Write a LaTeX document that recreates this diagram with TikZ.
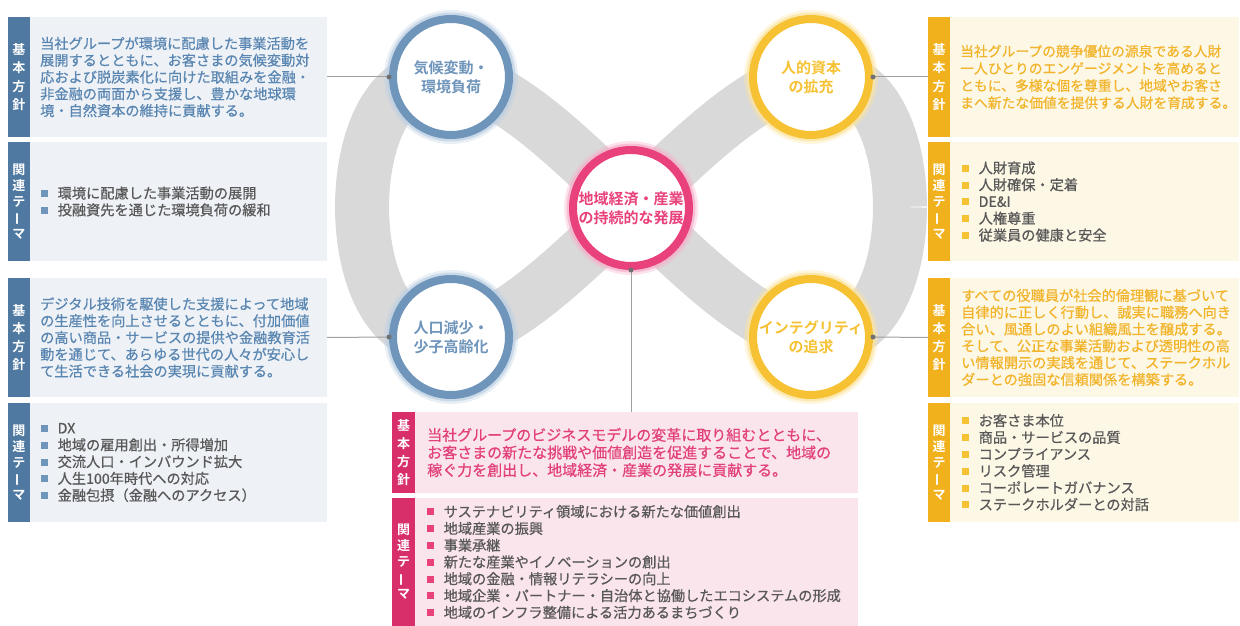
\documentclass[tikz,border=0pt]{standalone}
\usepackage{fontspec}
\setmainfont{Noto Sans CJK JP}[BoldFont={Noto Sans CJK JP Bold}]
\newfontfamily\medjp{Noto Sans CJK JP}[FakeBold=0.6]
\usetikzlibrary{positioning}
\definecolor{bluetab}{HTML}{4F79A1}
\definecolor{bluefill}{HTML}{EEF2F6}
\definecolor{bluetext}{HTML}{5A86B2}
\definecolor{bluering}{HTML}{6F95BB}
\definecolor{blueglow}{HTML}{BCD0E3}
\definecolor{pinktab}{HTML}{D82F6B}
\definecolor{pinkfill}{HTML}{FBE5EC}
\definecolor{pinktext}{HTML}{E2407A}
\definecolor{pinkring}{HTML}{E8417B}
\definecolor{pinkglow}{HTML}{F6B0CA}
\definecolor{goldtab}{HTML}{F0B11D}
\definecolor{goldfill}{HTML}{FDF7E6}
\definecolor{goldtext}{HTML}{F2B42B}
\definecolor{goldring}{HTML}{F6C234}
\definecolor{goldglow}{HTML}{FBE4A0}
\definecolor{bandgray}{HTML}{D9D9D9}
\definecolor{itemgray}{HTML}{585858}
\definecolor{conngray}{HTML}{A0A0A0}
\definecolor{dotgray}{HTML}{707070}
\newcommand{\bodyfont}{\medjp\fontsize{14.2}{16.8}\selectfont}
\newcommand{\mainfont}{\medjp\fontsize{15}{17.6}\selectfont}
\newcommand{\tabfont}{\fontsize{13}{18.2}\selectfont\bfseries}
\newcommand{\themefont}{\fontsize{13}{16}\selectfont\bfseries}
\newcommand{\circfont}{\fontsize{15}{19}\selectfont\bfseries}
\newcommand{\sqb}[1]{{\color{#1}\rule[1.5pt]{7pt}{7pt}}\hspace{9.5pt}}
\newcommand{\chobar}{\rotatebox[origin=c]{90}{ー}}
\begin{document}
\begin{tikzpicture}[x=1pt,y=-1pt,
    tab/.style={fill=#1, text=white, font=\tabfont, align=center, anchor=north west,
                minimum width=22pt, inner sep=0pt, outer sep=0pt},
    body/.style={fill=#1, inner sep=0pt, outer sep=0pt},
    txt/.style={text=#1, font=\bodyfont, align=left, inner sep=0pt},
    ring/.style 2 args={circle, fill=white, draw=#1, line width=8pt, minimum size=116pt,
                inner sep=0pt, text=#1, font=\circfont, align=center,
                preaction={draw=#2, line width=18pt, opacity=.35},
                preaction={draw=#2, line width=13pt, opacity=.7}},
    band/.style={draw=bandgray, line width=54pt, line join=round},
    conn/.style={draw=conngray, line width=1pt},
    enddot/.style={fill=dotgray}]
    \useasboundingbox (0,0) rectangle (1240,626);

    \draw[band] plot[domain=0:360, samples=145] ({631+269*cos(\x)}, {207+131*sin(2*\x)});

    \node[tab=bluetab, minimum height=120pt] (t1) at (8,17)  {基\\本\\方\\針};
    \node[body=bluefill, minimum width=297pt, minimum height=120pt, right=0pt of t1] (b1) {};
    \node[txt=bluetext, right=10pt of t1] (x1) {当社グループが環境に配慮した事業活動を\\
        展開するとともに、お客さまの気候変動対\\
        応および脱炭素化に向けた取組みを金融・\\
        非金融の両面から支援し、豊かな地球環\\
        境・自然資本の維持に貢献する。};

    \node[tab=bluetab, font=\themefont, minimum height=119pt] (t2) at (8,142) {関\\連\\テ\\\chobar\\マ};
    \node[body=bluefill, minimum width=297pt, minimum height=119pt, right=0pt of t2] (b2) {};
    \node[txt=itemgray, right=11pt of t2] (x2) {\sqb{bluering}環境に配慮した事業活動の展開\\
        \sqb{bluering}投融資先を通じた環境負荷の緩和};

    \node[tab=bluetab, minimum height=119pt] (t3) at (8,278) {基\\本\\方\\針};
    \node[body=bluefill, minimum width=297pt, minimum height=119pt, right=0pt of t3] (b3) {};
    \node[txt=bluetext, right=10pt of t3] (x3) {デジタル技術を駆使した支援によって地域\\
        の生産性を向上させるとともに、付加価値\\
        の高い商品・サービスの提供や金融教育活\\
        動を通じて、あらゆる世代の人々が安心し\\
        て生活できる社会の実現に貢献する。};

    \node[tab=bluetab, font=\themefont, minimum height=119pt] (t4) at (8,403) {関\\連\\テ\\\chobar\\マ};
    \node[body=bluefill, minimum width=297pt, minimum height=119pt, right=0pt of t4] (b4) {};
    \node[txt=itemgray, right=11pt of t4] (x4) {\sqb{bluering}DX\\
        \sqb{bluering}地域の雇用創出・所得増加\\
        \sqb{bluering}交流人口・インバウンド拡大\\
        \sqb{bluering}人生100年時代への対応\\
        \sqb{bluering}金融包摂（金融へのアクセス）};

    \node[tab=goldtab, minimum height=120pt] (t5) at (928,17)  {基\\本\\方\\針};
    \node[body=goldfill, minimum width=289pt, minimum height=120pt, right=0pt of t5] (b5) {};
    \node[txt=goldtext, font=\medjp\fontsize{13.8}{17.2}\selectfont, right=10pt of t5] (x5) {当社グループの競争優位の源泉である人財\\
        一人ひとりのエンゲージメントを高めると\\
        ともに、多様な個を尊重し、地域やお客さ\\
        まへ新たな価値を提供する人財を育成する。};

    \node[tab=goldtab, font=\themefont, minimum height=119pt] (t6) at (928,142) {関\\連\\テ\\\chobar\\マ};
    \node[body=goldfill, minimum width=289pt, minimum height=119pt, right=0pt of t6] (b6) {};
    \node[txt=itemgray, right=12pt of t6] (x6) {\sqb{goldring}人財育成\\
        \sqb{goldring}人財確保・定着\\
        \sqb{goldring}DE\&I\\
        \sqb{goldring}人権尊重\\
        \sqb{goldring}従業員の健康と安全};

    \node[tab=goldtab, minimum height=119pt] (t7) at (928,278) {基\\本\\方\\針};
    \node[body=goldfill, minimum width=289pt, minimum height=119pt, right=0pt of t7] (b7) {};
    \node[txt=goldtext, right=11pt of t7] (x7) {すべての役職員が社会的倫理観に基づいて\\
        自律的に正しく行動し、誠実に職務へ向き\\
        合い、風通しのよい組織風土を醸成する。\\
        そして、公正な事業活動および透明性の高\\
        い情報開示の実践を通じて、ステークホル\\
        ダーとの強固な信頼関係を構築する。};

    \node[tab=goldtab, font=\themefont, minimum height=119pt] (t8) at (928,403) {関\\連\\テ\\\chobar\\マ};
    \node[body=goldfill, minimum width=289pt, minimum height=119pt, right=0pt of t8] (b8) {};
    \node[txt=itemgray, right=12pt of t8] (x8) {\sqb{goldring}お客さま本位\\
        \sqb{goldring}商品・サービスの品質\\
        \sqb{goldring}コンプライアンス\\
        \sqb{goldring}リスク管理\\
        \sqb{goldring}コーポレートガバナンス\\
        \sqb{goldring}ステークホルダーとの対話};

    \node[tab=pinktab, minimum width=23pt, minimum height=81pt] (t9) at (392,412) {基\\本\\方\\針};
    \node[body=pinkfill, minimum width=443pt, minimum height=81pt, right=0pt of t9] (b9) {};
    \node[txt=pinktext, font=\mainfont, right=12pt of t9] (x9) {当社グループのビジネスモデルの変革に取り組むとともに、\\
        お客さまの新たな挑戦や価値創造を促進することで、地域の\\
        稼ぐ力を創出し、地域経済・産業の発展に貢献する。};

    \node[tab=pinktab, font=\themefont, minimum width=23pt, minimum height=128pt] (t10) at (392,498) {関\\連\\テ\\\chobar\\マ};
    \node[body=pinkfill, minimum width=443pt, minimum height=128pt, right=0pt of t10] (b10) {};
    \node[txt=itemgray, right=12pt of t10] (x10) {\sqb{pinkring}サステナビリティ領域における新たな価値創出\\
        \sqb{pinkring}地域産業の振興\\
        \sqb{pinkring}事業承継\\
        \sqb{pinkring}新たな産業やイノベーションの創出\\
        \sqb{pinkring}地域の金融・情報リテラシーの向上\\
        \sqb{pinkring}地域企業・パートナー・自治体と協働したエコシステムの形成\\
        \sqb{pinkring}地域のインフラ整備による活力あるまちづくり};

    \node[ring={bluering}{blueglow}] (c1) at (451,77)  {気候変動・\\環境負荷};
    \node[ring={bluering}{blueglow}] (c2) at (451,337) {人口減少・\\少子高齢化};
    \node[ring={goldring}{goldglow}] (c3) at (811,77)  {人的資本\\の拡充};
    \node[ring={goldring}{goldglow}] (c4) at (811,337) {インテグリティ\\の追求};
    \node[ring={pinkring}{pinkglow}] (c0) at (631,208) {地域経済・産業\\の持続的な発展};

    \draw[conn] (b1.east) -- (c1.west);
    \draw[conn] (b3.east) -- (c2.west);
    \draw[conn] (c3.east) -- (t5.west);
    \draw[conn] (c4.east) -- (t7.west);
    \draw[conn] (c0.south) -- (c0.south |- b9.north);
    \foreach \p in {c1.west, c2.west, c3.east, c4.east, c0.south}
        \fill[enddot] (\p) circle (2.5pt);
\end{tikzpicture}
\end{document}
